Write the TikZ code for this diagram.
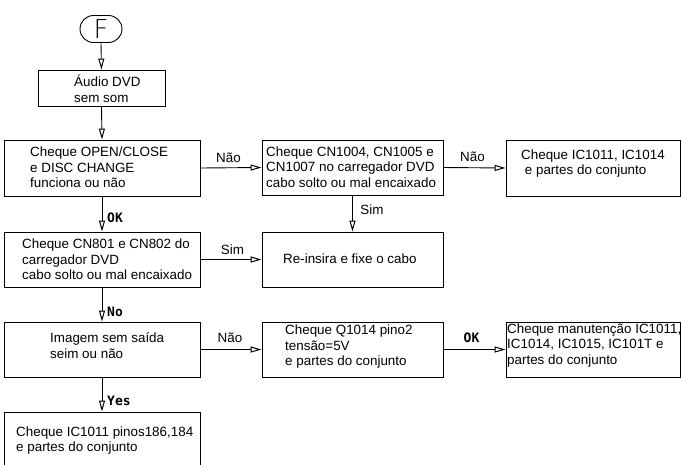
\documentclass[tikz,border=0pt]{standalone}
\usepackage{fontspec}
\setmainfont{Liberation Sans}
\newfontfamily\labfont{DejaVu Sans Mono}
\newfontfamily\termfont{DejaVu Sans ExtraLight}
\usetikzlibrary{arrows.meta}
\begin{document}
\begin{tikzpicture}[x=1pt,y=-1pt,
  box/.style={draw,line width=0.9pt,rectangle,inner sep=0pt},
  txt/.style={anchor=west,align=left,inner sep=0pt,font=\fontsize{13.4}{15.5}\selectfont},
  lbl/.style={inner sep=0pt,font=\fontsize{13.4}{15.5}\selectfont},
  yn/.style={inner sep=0pt,anchor=west,font=\labfont\bfseries\fontsize{13}{15}\selectfont},
  flow/.style={line width=0.9pt,-{Triangle[open,length=11pt,width=6pt,line width=1pt]}}]
\useasboundingbox (0,0) rectangle (681,464);
\clip (0,0) rectangle (681,464);

% start terminal
\node[draw,line width=0.9pt,rounded corners=13.5pt,minimum width=42pt,minimum height=27pt,inner sep=0pt,
      font=\termfont\fontsize{26}{26}\selectfont] (F) at (101,29) {F};

% process boxes (centre, size)
\node[box,minimum width=127pt,minimum height=36pt] (b1) at (101.5,88) {};
\node[box,minimum width=196pt,minimum height=56pt] (b2) at (102,168) {};
\node[box,minimum width=181pt,minimum height=55pt] (b3) at (352.5,167.5) {};
\node[box,minimum width=174pt,minimum height=56pt] (b4) at (593,168) {};
\node[box,minimum width=196pt,minimum height=55pt] (b5) at (102,259.5) {};
\node[box,minimum width=181pt,minimum height=55pt] (b6) at (352.5,259.5) {};
\node[box,minimum width=196pt,minimum height=55pt] (b7) at (102,349.5) {};
\node[box,minimum width=181pt,minimum height=55pt] (b8) at (352.5,349.5) {};
\node[box,minimum width=174pt,minimum height=55pt] (b9) at (593,349.5) {};
\node[box,minimum width=196pt,minimum height=70pt] (b10) at (102,447) {};

% box texts
\node[txt] (t1) at (74,89) {Áudio DVD\\sem som};
\node[txt] (t2) at (30,167.5) {Cheque OPEN/CLOSE\\e DISC CHANGE\\funciona ou não};
\node[txt] (t3) at (266,167) {Cheque CN1004, CN1005 e\\CN1007 no carregador DVD\\cabo solto ou mal encaixado};
\node[txt] (t4) at (521,163.5) {Cheque IC1011, IC1014\\\ e partes do conjunto};
\node[txt] (t5) at (22,259.5) {Cheque CN801 e CN802 do\\carregador DVD\\cabo solto ou mal encaixado};
\node[txt] (t6) at (283,259) {Re-insira e fixe o cabo};
\node[txt] (t7) at (50,345.5) {Imagem sem saída\\seim ou não};
\node[txt] (t8) at (285,347) {Cheque Q1014 pino2\\tensão=5V\\e partes do conjunto};
\node[txt] (t9) at (507,345.5) {Cheque manutenção IC1011,\\IC1014, IC1015, IC101T e\\partes do conjunto};
\node[txt] (t10) at (16,440.5) {Cheque IC1011 pinos186,184\\e partes do conjunto};

% vertical chain
\draw[flow] (F.south) -- (b1.north);
\draw[flow] (b1.south) -- (b2.north);
\draw[flow] (b2.south) -- (b5.north);
\draw[flow] (b5.south) -- (b7.north);
\draw[flow] (b7.south) -- (b10.north);
\draw[flow] (b3.south) -- (b6.north);

% horizontal branches
\draw[flow] (b2.east) -- (b3.west);
\draw[flow] (b3.east) -- (b4.west);
\draw[flow] (b5.east) -- (b6.west);
\draw[flow] (b7.east) -- (b8.west);
\draw[flow] (b8.east) -- (b9.west);

% branch labels
\node[lbl] (n1) at (228.5,158) {Não};
\node[lbl] (n2) at (472.5,157) {Não};
\node[lbl] (s1) at (232.5,250) {Sim};
\node[lbl] (s2) at (372,210) {Sim};
\node[lbl] (n3) at (230,338) {Não};
\node[yn] (ok1) at (107,218) {OK};
\node[yn] (no1) at (107,312) {No};
\node[yn] (yes1) at (107,401) {Yes};
\node[yn,anchor=center] (ok2) at (471.5,338) {OK};
\end{tikzpicture}
\end{document}
